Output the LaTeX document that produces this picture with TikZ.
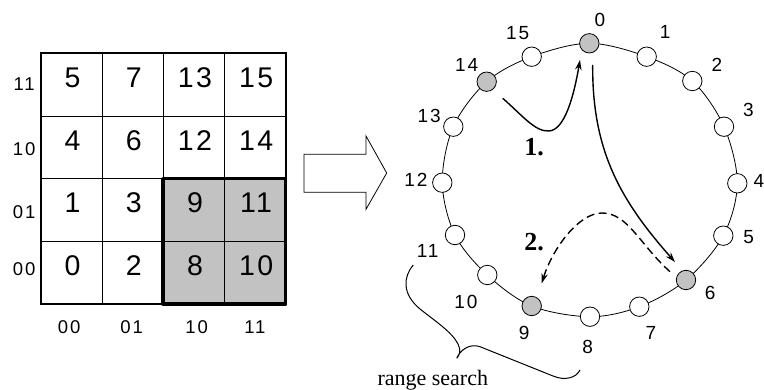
\documentclass[tikz,border=0pt]{standalone}
\usepackage{fontspec}
\setmainfont{Liberation Serif}
\newfontfamily\hvnum{Liberation Sans}[LetterSpace=8]
\newfontfamily\hvlbl{Liberation Sans}[LetterSpace=10]
\usetikzlibrary{arrows.meta}
\definecolor{shade}{gray}{0.76}

\begin{document}
\begin{tikzpicture}[x=1pt,y=-1pt,
  cell/.style={draw, line width=0.8pt, minimum width=61.25pt, minimum height=62.675pt, inner sep=0pt, outer sep=0pt},
  hot/.style={cell, fill=shade},
  num/.style={font=\hvnum\fontsize{28.5}{28.5}\selectfont, inner sep=0pt, xshift=1.1pt},
  axis/.style={font=\hvlbl\fontsize{18.5}{18.5}\selectfont, inner sep=0pt, xshift=0.9pt},
  peer/.style={circle, draw, line width=0.8pt, fill=white, minimum size=19.4pt, inner sep=0pt},
  hit/.style={peer, fill=shade},
  plbl/.style={font=\hvlbl\fontsize{19}{19}\selectfont, inner sep=0pt, xshift=0.9pt},
  route/.style={line width=1.4pt, -{Stealth[length=10pt,width=6.5pt]}},
  hop/.style={font=\bfseries\fontsize{26}{26}\selectfont, inner sep=0pt},
]
\useasboundingbox (0,0) rectangle (764,390);

% ---- Z-order grid ----
\foreach \v/\cx/\cy/\s in {
  5/71.33/84.64/cell, 7/132.58/84.64/cell, 13/193.83/84.64/cell, 15/255.08/84.64/cell,
  4/71.33/147.31/cell, 6/132.58/147.31/cell, 12/193.83/147.31/cell, 14/255.08/147.31/cell,
  1/71.33/209.99/cell, 3/132.58/209.99/cell, 9/193.83/209.99/hot, 11/255.08/209.99/hot,
  0/71.33/272.66/cell, 2/132.58/272.66/cell, 8/193.83/272.66/hot, 10/255.08/272.66/hot}{
  \node[\s] (c\v) at (\cx,\cy) {};
  \node[num] (t\v) at ([yshift=7pt]c\v.center) {\v};
}
\draw[line width=1.6pt] (c5.north west) rectangle (c10.south east);
\draw[line width=3.5pt, line join=round] (c9.north west) rectangle (c10.south east);

% row and column keys
\foreach \t/\ry in {11/83.8, 10/149.2, 01/212.5, 00/269.2}
  \node[axis] (row\t) at (23.3,\ry) {\t};
\foreach \t/\cx in {00/68.3, 01/130.8, 10/195.8, 11/254}
  \node[axis] (col\t) at (\cx,326.7) {\t};

% ---- outline arrow ----
\draw[line width=0.8pt, line join=miter]
  (304,154.3) -- (366,154.3) -- (366,136) -- (386.7,173) -- (366,209.3)
  -- (366,192.3) -- (304,192.3) -- cycle;

% ---- ring ----
\foreach \i/\px/\py in {0/589.3/43.3, 1/646.7/56.7, 2/692.3/81, 3/724/126.7,
  4/737.3/183.3, 5/723.3/235.7, 6/686/280, 7/639.3/306.7, 8/590/316.7,
  9/531.7/306, 10/487.3/275, 11/455/235, 12/442.3/182.7, 13/453.3/126.7,
  14/486.7/81.7, 15/531.7/56.7}
  \coordinate (p\i) at (\px,\py);
\draw[line width=0.8pt] plot[smooth cycle, tension=0.55] coordinates {
  (p0) (p1) (p2) (p3) (p4) (p5) (p6) (p7) (p8) (p9) (p10) (p11) (p12) (p13) (p14) (p15)};
\foreach \i in {1,2,3,4,5,7,8,10,11,12,13,15}
  \node[peer] (n\i) at (p\i) {};
\foreach \i in {0,6,9,14}
  \node[hit] (n\i) at (p\i) {};

\foreach \i/\lx/\ly in {0/599/20, 1/664.3/32.3, 2/716/65, 3/747.5/109.5,
  4/758/181, 5/747.7/236.7, 6/709.3/293.3, 7/650/333.3, 8/586.7/346.7,
  9/523.3/333.3, 10/465/301.7, 11/426.7/250.5, 12/415/180, 13/428.3/116,
  14/465.7/65, 15/516.7/33.3}
  \node[plbl] (l\i) at (\lx,\ly) {\i};

% ---- routing arrows ----
\coordinate (a1s) at (502.7,98.3);
\coordinate (a1e) at (580,60);
\draw[route] (a1s) .. controls (522,115) and (535,132) .. (549,131)
  .. controls (565,130) and (574,95) .. (a1e);
\node[hop] (h1) at (534,146.7) {1.};

\coordinate (a2s) at (592.7,65);
\coordinate (a2e) at (675,262);
\draw[route] (a2s) .. controls (592,150) and (620,200) .. (a2e);

\coordinate (a3s) at (670,271.7);
\coordinate (a3e) at (541.7,283.3);
\draw[route, dash pattern=on 8pt off 4.5pt] (a3s) .. controls (640,245) and (628,213) .. (602,213)
  .. controls (578,213) and (552,250) .. (a3e);
\node[hop] (h2) at (534,241.7) {2.};

% ---- range brace ----
\draw[line width=1pt] (413.3,265) .. controls (403,277) and (402,294) .. (420,309)
  .. controls (435,321) and (452,332) .. (458,344)
  .. controls (461,350) and (460,355) .. (456.7,358.3)
  .. controls (460,350) and (470,343) .. (480,346.7) -- (553,376)
  .. controls (565,381) and (576,378) .. (580,370);
\node[font=\fontsize{22}{22}\selectfont, inner sep=0pt, anchor=base] (rs) at (432.8,385) {range search};
\end{tikzpicture}
\end{document}
